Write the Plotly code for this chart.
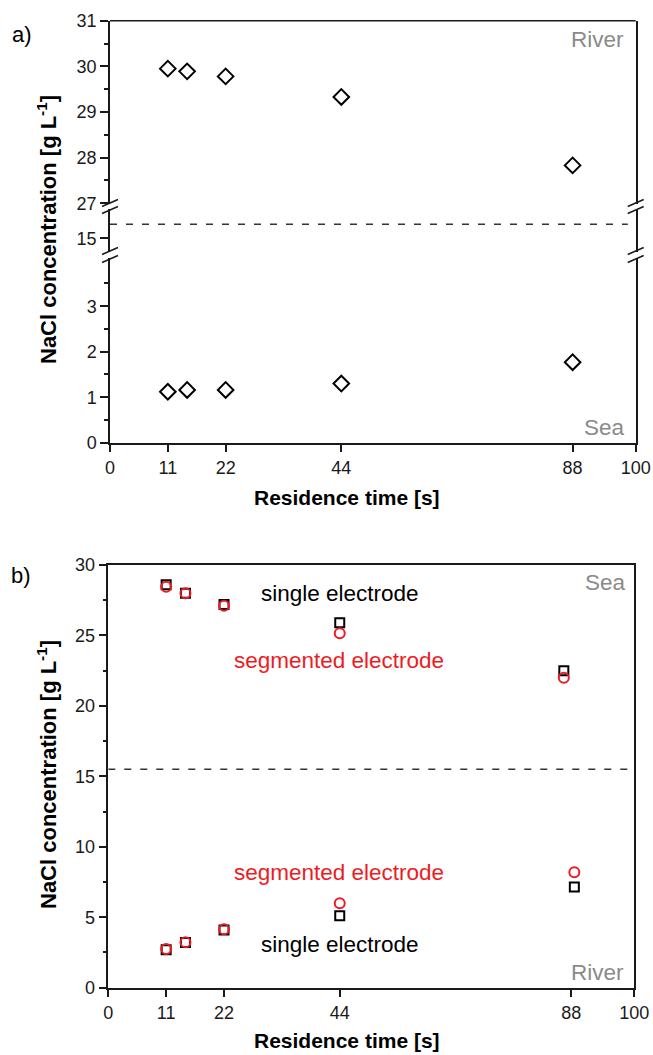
import plotly.graph_objects as go

# ---------------- data ----------------
# Panel a (single electrode, diamonds)
time_a = [11, 14.67, 22, 44, 88]
river_a = [29.95, 29.89, 29.78, 29.33, 27.83]
sea_a = [1.12, 1.16, 1.16, 1.30, 1.77]

# Panel b
time_b_sea = [11, 14.67, 22, 44, 86.6]
sea_single_b = [28.6, 28.0, 27.2, 25.9, 22.5]
sea_segmented_b = [28.45, 28.0, 27.1, 25.15, 22.0]
time_b_river = [11, 14.67, 22, 44, 88.6]
river_single_b = [2.7, 3.2, 4.1, 5.1, 7.15]
river_segmented_b = [2.75, 3.22, 4.14, 6.0, 8.2]

divide_level = 15.5
x_ticks = [0, 11, 22, 44, 88, 100]

# ---------------- layout helpers ----------------
W, H = 653, 1055
def fx(px):
    return px / W
def fy(py):
    return 1 - py / H

FONT = "Liberation Sans, Arial, sans-serif"
AX = "#1a1a1a"
RED = "#ED1C24"
GRAY = "#8a8a8a"

fig = go.Figure()

# panel a
dia = dict(symbol="diamond-open", size=12, color="black", line=dict(width=2, color="black"))
fig.add_trace(go.Scatter(x=time_a, y=river_a, xaxis="x", yaxis="y3", mode="markers",
                         marker=dia, showlegend=False))
fig.add_trace(go.Scatter(x=time_a, y=sea_a, xaxis="x", yaxis="y", mode="markers",
                         marker=dia, showlegend=False))
# panel b
sq = dict(symbol="square-open", size=9, color="black", line=dict(width=2, color="black"))
ci = dict(symbol="circle-open", size=10, color=RED, line=dict(width=2, color=RED))
fig.add_trace(go.Scatter(x=time_b_sea, y=sea_single_b, xaxis="x2", yaxis="y4", mode="markers",
                         marker=sq, showlegend=False))
fig.add_trace(go.Scatter(x=time_b_river, y=river_single_b, xaxis="x2", yaxis="y4", mode="markers",
                         marker=sq, showlegend=False))
fig.add_trace(go.Scatter(x=time_b_sea, y=sea_segmented_b, xaxis="x2", yaxis="y4", mode="markers",
                         marker=ci, showlegend=False))
fig.add_trace(go.Scatter(x=time_b_river, y=river_segmented_b, xaxis="x2", yaxis="y4", mode="markers",
                         marker=ci, showlegend=False))

tickfont = dict(family=FONT, size=18, color=AX)
common = dict(showline=True, linecolor=AX, linewidth=1.5, ticks="outside", ticklen=8,
              tickwidth=1.5, tickcolor=AX, showgrid=False, zeroline=False, tickfont=tickfont,
              automargin=False)

# panel a geometry (pixels)
A_L, A_R = 110, 635.7
A_TOP, A_BOT = 20.7, 442.7
B1a, B1b = 204, 209      # break 1 (top / middle)
B2a, B2b = 252, 258      # break 2 (middle / bottom)

fig.update_layout(
    template="none",
    xaxis=dict(domain=[fx(A_L), fx(A_R)], range=[0, 100], anchor="y", tickmode="array",
               tickvals=x_ticks, mirror=False, **common),
    yaxis=dict(domain=[fy(A_BOT), fy(B2b)], range=[0, (A_BOT - B2b) / 45.5], anchor="x",
               tickmode="array", tickvals=[0, 1, 2, 3], mirror=True,
               minor=dict(tickmode="array", tickvals=[0.5, 1.5, 2.5, 3.5], ticks="outside",
                          ticklen=4, tickwidth=1.5, tickcolor=AX), **common),
    yaxis2=dict(domain=[fy(B2a), fy(B1b)], range=[15 - (B2a - 238.3) / 28, 15 + (238.3 - B1b) / 28],
                anchor="x", tickmode="array", tickvals=[15], mirror=True, **common),
    yaxis3=dict(domain=[fy(B1a), fy(A_TOP)], range=[31 - (B1a - A_TOP) / 45.65, 31], anchor="x",
                tickmode="array", tickvals=[27, 28, 29, 30, 31], mirror=True,
                minor=dict(tickmode="array", tickvals=[27.5, 28.5, 29.5, 30.5], ticks="outside",
                           ticklen=4, tickwidth=1.5, tickcolor=AX), **common),
    xaxis2=dict(domain=[fx(108.3), fx(634.3)], range=[0, 100], anchor="y4", tickmode="array",
                tickvals=x_ticks, mirror=True, **common),
    yaxis4=dict(domain=[fy(987.7), fy(565)], range=[0, 30], anchor="x2", tickmode="linear",
                tick0=0, dtick=5, mirror=True,
                minor=dict(dtick=2.5, tick0=0, ticks="outside", ticklen=4, tickwidth=1.5,
                           tickcolor=AX), **common),
    width=W, height=H, autosize=False,
    margin=dict(l=0, r=0, t=0, b=0, pad=0),
    paper_bgcolor="white", plot_bgcolor="white",
)

shapes = []
# top border of panel a
shapes.append(dict(type="line", xref="paper", yref="paper", x0=fx(A_L), x1=fx(A_R),
                   y0=fy(A_TOP), y1=fy(A_TOP), line=dict(color=AX, width=1.5)))
# break marks
for xc in (A_L, A_R):
    for yc in (B1a - 1, B1b + 1, B2a - 1, B2b + 1):
        shapes.append(dict(type="line", xref="paper", yref="paper",
                           x0=fx(xc - 8), y0=fy(yc + 3.5), x1=fx(xc + 8), y1=fy(yc - 3.5),
                           line=dict(color=AX, width=1.5)))
# dashed divide lines
shapes.append(dict(type="line", xref="x", yref="y2", x0=0, x1=98.5, y0=divide_level, y1=divide_level,
                   line=dict(color="#333333", width=1.5, dash="7px,9px")))
shapes.append(dict(type="line", xref="x2", yref="y4", x0=0, x1=98.8, y0=divide_level, y1=divide_level,
                   line=dict(color="#333333", width=1.5, dash="7px,9px")))
fig.update_layout(shapes=shapes)

def ann(text, px, py, size, color="black", bold=False, angle=0):
    t = f"<b>{text}</b>" if bold else text
    return dict(text=t, x=fx(px), y=fy(py), xref="paper", yref="paper", showarrow=False,
                xanchor="center", yanchor="middle", textangle=angle,
                font=dict(family=FONT, size=size, color=color))

annotations = [
    ann("a)", 22, 34, 22),
    ann("b)", 21, 575, 22),
    ann("River", 597, 39, 22.5, GRAY),
    ann("Sea", 604, 428, 22.5, GRAY),
    ann("Sea", 605, 582, 22.5, GRAY),
    ann("River", 597, 972, 22.5, GRAY),
    ann("single electrode", 340, 593, 22.5),
    ann("segmented electrode", 339, 660, 22.5, RED),
    ann("segmented electrode", 339, 872, 22.5, RED),
    ann("single electrode", 340, 944, 22.5),
    ann("Residence time [s]", 347, 497, 21, bold=True),
    ann("Residence time [s]", 347, 1040, 21, bold=True),
    ann("NaCl concentration [g L<sup>-1</sup>]", 47, 230, 22, bold=True, angle=-90),
    ann("NaCl concentration [g L<sup>-1</sup>]", 47, 775, 22, bold=True, angle=-90),
]
fig.update_layout(annotations=annotations)

fig.write_html("out.html")
